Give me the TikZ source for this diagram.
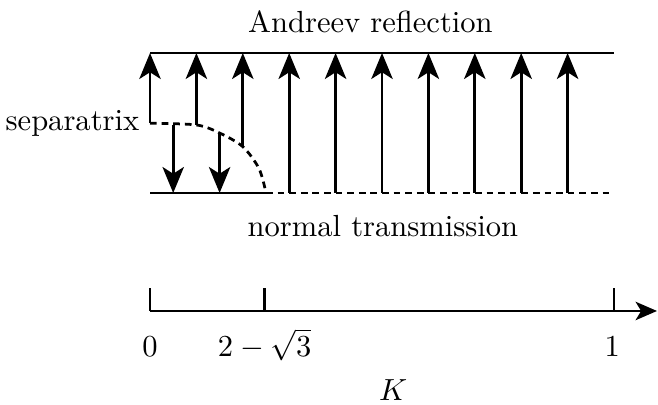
\documentclass[tikz,border=0pt]{standalone}
\usepackage{amsmath,amssymb}
\usepackage{tikz}
\usetikzlibrary{arrows.meta,positioning}

\begin{document}
\begin{tikzpicture}[x=5.34cm,y=1cm,
    flow/.style={line width=0.9pt,-{Stealth[length=8.5pt,width=7pt,inset=2.2pt]}},
    level/.style={line width=0.9pt},
    sepline/.style={line width=0.9pt,dash pattern=on 2.2pt off 1.6pt}]
  \useasboundingbox (-0.3233,-2.429) rectangle (1.0948,2.221);
  % levels
  \coordinate (tl) at (0,1.611);
  \coordinate (tr) at (1,1.611);
  \coordinate (bl) at (0,0);
  \coordinate (bm) at (0.25,0);
  \coordinate (br) at (1,0);
  \draw[level] (tl) -- (tr);
  \draw[level] (bl) -- (bm);
  \draw[sepline] (bm) -- (br);
  \node[anchor=base] (andreev) at (0.475,1.850) {Andreev reflection};
  \node[anchor=base] (normal) at (0.502,-0.503) {normal transmission};
  % separatrix
  \node[anchor=base east] (sep) at (0,0.714) {separatrix};
  \draw[sepline] plot[smooth] coordinates
    {(0,0.802) (0.1,0.783) (0.15,0.69) (0.2,0.533) (0.235,0.28) (0.25,0)};
  % reflected
  \foreach \k/\y in {0/0.802,1/0.783,2/0.533}{
    \coordinate (s\k) at (\k/10,\y);
    \coordinate (u\k) at (\k/10,1.611);
    \draw[flow] (s\k) -- (u\k);
  }
  \foreach \k/\y in {1/0.783,3/0.69}{
    \coordinate (d\k) at (\k/20,\y);
    \coordinate (f\k) at (\k/20,0);
    \draw[flow] (d\k) -- (f\k);
  }
  % transmitted
  \foreach \k in {3,...,9}{
    \coordinate (b\k) at (\k/10,0);
    \coordinate (t\k) at (\k/10,1.611);
    \draw[flow] (b\k) -- (t\k);
  }
  % K axis
  \coordinate (k0) at (0,-1.358);
  \coordinate (kend) at (1.0927,-1.358);
  \draw[level,-{Stealth[length=7pt,width=6pt,inset=1.8pt]}] (k0) -- (kend);
  \foreach \k in {0,0.247,1}
    \draw[level] (\k,-1.358) -- (\k,-1.093);
  \node[anchor=base] (lzero) at (0,-1.884) {$0$};
  \node[anchor=base] (lsep) at (0.247,-1.884) {$2-\sqrt{3}$};
  \node[anchor=base] (lone) at (0.996,-1.884) {$1$};
  \node[anchor=base] (lk) at (0.524,-2.394) {$K$};
\end{tikzpicture}
\end{document}
